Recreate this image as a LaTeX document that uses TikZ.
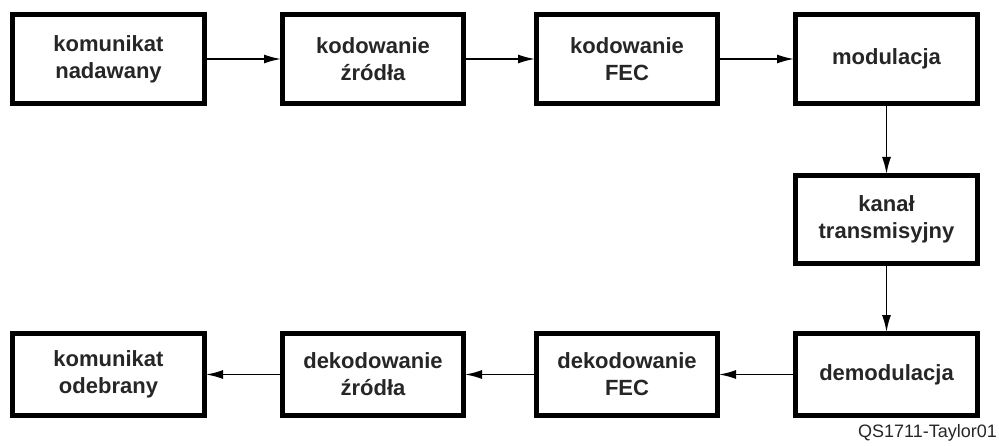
\documentclass[tikz,border=0pt]{standalone}
\usepackage{fontspec}
\setmainfont{Liberation Sans}
\usetikzlibrary{arrows.meta}
\begin{document}
\begin{tikzpicture}[x=1pt,y=1pt,
  blok/.style={draw=black, line width=5pt, align=center, inner sep=0pt,
    font=\bfseries\fontsize{22}{27}\selectfont, text=black!85},
  strz/.style={line width=1.6pt, -{Latex[length=17pt,width=9pt]}, shorten >=-1pt}]
\useasboundingbox (0,0) rectangle (999,445);
% row 1
\node[blok, minimum width=192pt, minimum height=89pt] (a1) at (108.5,386) {komunikat\\nadawany};
\node[blok, minimum width=181pt, minimum height=89pt] (a2) at (373,386) {kodowanie\\źródła};
\node[blok, minimum width=181pt, minimum height=89pt] (a3) at (627,386) {kodowanie\\FEC};
\node[blok, minimum width=182pt, minimum height=89pt] (a4) at (886.5,386) {modulacja};
% row 2
\node[blok, minimum width=182pt, minimum height=88pt] (k) at (886.5,225.5) {kanał\\transmisyjny};
% row 3
\node[blok, minimum width=182pt, minimum height=82pt] (b4) at (886.5,70.5) {demodulacja};
\node[blok, minimum width=181pt, minimum height=82pt] (b3) at (627,70.5) {dekodowanie\\FEC};
\node[blok, minimum width=181pt, minimum height=82pt] (b2) at (373,70.5) {dekodowanie\\źródła};
\node[blok, minimum width=192pt, minimum height=82pt] (b1) at (108.5,70.5) {komunikat\\odebrany};
% arrows
\draw[strz] (a1.east) -- (a2.west);
\draw[strz] (a2.east) -- (a3.west);
\draw[strz] (a3.east) -- (a4.west);
\draw[strz] (a4.south) -- (k.north);
\draw[strz] (k.south) -- (b4.north);
\draw[strz] (b4.west) -- (b3.east);
\draw[strz] (b3.west) -- (b2.east);
\draw[strz] (b2.west) -- (b1.east);
% label
\node[anchor=base east, inner sep=0pt, font=\fontsize{18}{20}\selectfont, text=black!85] (lbl) at (997,8) {QS1711-Taylor01};
\end{tikzpicture}
\end{document}
